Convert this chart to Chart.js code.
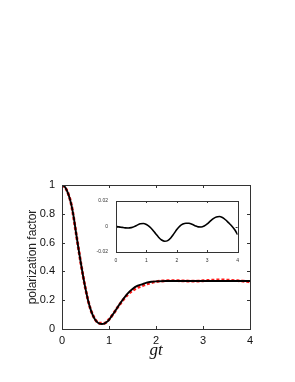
<!DOCTYPE html>
<html>
<head>
<meta charset="utf-8">
<script src="https://cdn.jsdelivr.net/npm/chart.js@4/dist/chart.umd.min.js"></script>
<style>
  html, body { margin: 0; padding: 0; background: #fff; }
  #wrap { position: relative; width: 295px; height: 382px; }
  #main { position: absolute; left: 0; top: 0; }
  #inset { position: absolute; left: 90px; top: 190px; }
</style>
</head>
<body>
<div id="wrap">
  <canvas id="main" width="295" height="382"></canvas>
  <canvas id="inset" width="155" height="80"></canvas>
</div>
<script>
// ---- data ----
const tBlack = [0,0.05,0.1,0.15,0.2,0.25,0.3,0.35,0.4,0.45,0.5,0.55,0.6,0.65,0.7,0.75,0.8,0.85,0.9,0.95,1.0,
                1.1,1.2,1.3,1.4,1.5,1.6,1.7,1.8,1.9,2.0,2.2,2.4,2.6,2.8,3.0,3.2,3.4,3.6,3.8,4.0];
const blackVals = [1.000,0.992,0.965,0.922,0.862,0.775,0.665,0.560,0.460,0.365,0.280,0.205,0.145,0.100,0.068,0.048,0.038,0.035,0.038,0.048,0.064,
                   0.110,0.160,0.207,0.248,0.278,0.299,0.310,0.322,0.328,0.331,0.333,0.333,0.333,0.333,0.333,0.333,0.333,0.333,0.333,0.333];

const tRed = [0,0.1,0.2,0.3,0.4,0.5,0.6,0.7,0.8,0.9,1.0,1.1,1.2,1.3,1.4,1.5,1.6,1.7,1.8,1.9,2.0,
              2.1,2.2,2.3,2.4,2.5,2.6,2.7,2.8,2.9,3.0,3.1,3.2,3.3,3.4,3.5,3.6,3.7,3.8,3.9,4.0];
const redVals = [1.000,0.965,0.861,0.664,0.459,0.279,0.145,0.069,0.040,0.040,0.066,0.110,0.158,0.202,0.240,0.267,0.287,0.299,0.313,0.322,0.329,
                 0.333,0.335,0.336,0.336,0.335,0.334,0.333,0.333,0.333,0.335,0.337,0.339,0.341,0.341,0.340,0.338,0.336,0.334,0.331,0.327];

const tInset = [0,0.1,0.2,0.3,0.4,0.5,0.6,0.7,0.8,0.9,1.0,1.1,1.2,1.3,1.4,1.5,1.6,1.7,1.8,1.9,2.0,
                2.1,2.2,2.3,2.4,2.5,2.6,2.7,2.8,2.9,3.0,3.1,3.2,3.3,3.4,3.5,3.6,3.7,3.8,3.9,4.0];
const insetVals = [0,-0.0003,-0.0007,-0.0011,-0.0012,-0.0009,-0.0001,0.0011,0.0022,0.0024,0.0016,-0.0001,-0.0025,-0.0055,-0.0084,-0.0106,-0.0116,-0.0111,-0.0090,-0.0058,-0.0024,
                   0.0003,0.0019,0.0026,0.0025,0.0017,0.0006,-0.0003,-0.0004,0.0004,0.0020,0.0042,0.0062,0.0075,0.0078,0.0070,0.0053,0.0030,0.0006,-0.0024,-0.0064];

const mainXTicks = [0,1,2,3,4];
const mainYTicks = [0,0.2,0.4,0.6,0.8,1];
const mainYLabels = ['0','0.2','0.4','0.6','0.8','1'];
const insetXTicks = [0,1,2,3,4];
const insetYTicks = [-0.02,0,0.02];
const insetYLabels = ['-0.02','0','0.02'];

const xTitle = 'gt';
const yTitle = 'polarization factor';

function pts(xs, ys) { return xs.map((x, i) => ({x: x, y: ys[i]})); }

// frame + inward ticks on all four sides
function framePlugin(len, color, xt, yt) {
  return {
    id: 'frame',
    afterDatasetsDraw(chart) {
      const {ctx, chartArea: a, scales: {x, y}} = chart;
      ctx.save();
      ctx.strokeStyle = color;
      ctx.lineWidth = 1;
      ctx.beginPath();
      xt.forEach(v => {
        const px = Math.round(x.getPixelForValue(v)) + 0.5;
        ctx.moveTo(px, a.bottom); ctx.lineTo(px, a.bottom - len);
        ctx.moveTo(px, a.top); ctx.lineTo(px, a.top + len);
      });
      yt.forEach(v => {
        const py = Math.round(y.getPixelForValue(v)) + 0.5;
        ctx.moveTo(a.left, py); ctx.lineTo(a.left + len, py);
        ctx.moveTo(a.right, py); ctx.lineTo(a.right - len, py);
      });
      ctx.stroke();
      ctx.strokeRect(Math.round(a.left) + 0.5, Math.round(a.top) + 0.5,
                     Math.round(a.right - a.left), Math.round(a.bottom - a.top));
      ctx.restore();
    }
  };
}
const whiteBg = {
  id: 'bg',
  beforeDraw(chart) {
    const {ctx, width, height} = chart;
    ctx.save(); ctx.fillStyle = '#fff'; ctx.fillRect(0, 0, width, height); ctx.restore();
  }
};

new Chart(document.getElementById('main'), {
  type: 'line',
  data: {
    datasets: [
      { data: pts(tBlack, blackVals), borderColor: '#000', borderWidth: 1.9,
        pointRadius: 0, cubicInterpolationMode: 'monotone', fill: false },
      { data: pts(tRed, redVals), borderColor: '#ff1a1a', borderWidth: 2.8, borderDash: [3, 2],
        pointRadius: 0, cubicInterpolationMode: 'monotone', fill: false }
    ]
  },
  options: {
    responsive: false, animation: false, devicePixelRatio: 1,
    layout: { padding: { left: 0, top: 185, right: 45, bottom: 0 } },
    plugins: { legend: { display: false }, tooltip: { enabled: false } },
    scales: {
      x: {
        type: 'linear', min: 0, max: 4,
        afterBuildTicks: s => { s.ticks = mainXTicks.map(v => ({value: v})); },
        afterFit: s => { s.height = 53; },
        grid: { display: false, drawTicks: false },
        border: { display: false },
        ticks: { padding: 5, color: '#111', font: { family: 'Liberation Sans', size: 11 },
                 callback: v => String(v), maxRotation: 0, autoSkip: false },
        title: { display: true, text: xTitle, color: '#111',
                 font: { family: 'Liberation Serif', size: 17, style: 'italic' },
                 padding: { top: 0, bottom: 21 } }
      },
      y: {
        type: 'linear', min: 0, max: 1,
        afterBuildTicks: s => { s.ticks = mainYTicks.map(v => ({value: v})); },
        afterFit: s => { s.width = 62; },
        grid: { display: false, drawTicks: false },
        border: { display: false },
        ticks: { padding: 7, color: '#111', font: { family: 'Liberation Sans', size: 11 },
                 callback: (v) => { const i = mainYTicks.findIndex(t => Math.abs(t - v) < 1e-9); return i >= 0 ? mainYLabels[i] : ''; },
                 autoSkip: false },
        title: { display: true, text: yTitle, color: '#222',
                 font: { family: 'Liberation Sans', size: 12 },
                 padding: { top: 25, bottom: 0 } }
      }
    }
  },
  plugins: [whiteBg, framePlugin(3, '#333', [1, 2, 3], [0.2, 0.4, 0.6, 0.8])]
});

new Chart(document.getElementById('inset'), {
  type: 'line',
  data: {
    datasets: [
      { data: pts(tInset, insetVals), borderColor: '#000', borderWidth: 1.6,
        pointRadius: 0, cubicInterpolationMode: 'monotone', fill: false }
    ]
  },
  options: {
    responsive: false, animation: false, devicePixelRatio: 1,
    layout: { padding: { left: 0, top: 6, right: 7, bottom: 0 } },
    plugins: { legend: { display: false }, tooltip: { enabled: false } },
    scales: {
      x: {
        type: 'linear', min: 0, max: 4,
        afterBuildTicks: s => { s.ticks = insetXTicks.map(v => ({value: v})); },
        afterFit: s => { s.height = 18; },
        grid: { display: false, drawTicks: false },
        border: { display: false },
        ticks: { padding: 6, color: '#333', font: { family: 'Liberation Sans', size: 5 },
                 callback: v => String(v), maxRotation: 0, autoSkip: false }
      },
      y: {
        type: 'linear', min: -0.02, max: 0.02,
        afterBuildTicks: s => { s.ticks = insetYTicks.map(v => ({value: v})); },
        afterFit: s => { s.width = 26; },
        grid: { display: false, drawTicks: false },
        border: { display: false },
        ticks: { padding: 8, color: '#333', font: { family: 'Liberation Sans', size: 5 },
                 callback: (v) => { const i = insetYTicks.findIndex(t => Math.abs(t - v) < 1e-9); return i >= 0 ? insetYLabels[i] : ''; },
                 autoSkip: false }
      }
    }
  },
  plugins: [framePlugin(2, '#333', [1, 2, 3], [0])]
});
</script>
</body>
</html>
